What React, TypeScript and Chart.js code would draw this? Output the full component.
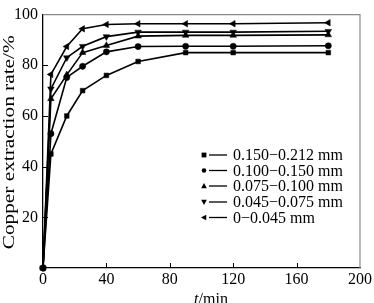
import React, { useEffect, useRef } from "react";
import { Chart, registerables } from "chart.js";

Chart.register(...registerables);

const times = [0, 5, 15, 25, 40, 60, 90, 120, 180];
const seriesLabels = [
  "0.150\u22120.212 mm",
  "0.100\u22120.150 mm",
  "0.075\u22120.100 mm",
  "0.045\u22120.075 mm",
  "0\u22120.045 mm",
];
const s1 = [0, 45, 60, 70, 76, 81.5, 85, 85, 85];
const s2 = [0, 53, 75.2, 79.6, 85.3, 87.4, 87.5, 87.5, 87.7];
const s3 = [0, 66.8, 76.2, 85, 87.8, 91.5, 91.8, 91.8, 92];
const s4 = [0, 70.7, 83, 87.5, 91.3, 93.1, 93.1, 93.1, 93.4];
const s5 = [0, 76.4, 87.4, 94.4, 96.1, 96.4, 96.4, 96.4, 96.8];
const seriesValues = [s1, s2, s3, s4, s5];
const yTicks = [0, 20, 40, 60, 80, 100];
const xTicks = [0, 40, 80, 120, 160, 200];

const FONT = "'Liberation Serif', 'Times New Roman', serif";
const styles: { ps: string; rot: number; r: number }[] = [
  { ps: "rect", rot: 0, r: 3.3 },
  { ps: "circle", rot: 0, r: 3.1 },
  { ps: "triangle", rot: 0, r: 3.8 },
  { ps: "triangle", rot: 180, r: 3.8 },
  { ps: "triangle", rot: 270, r: 3.8 },
];

function drawMarker(ctx: CanvasRenderingContext2D, kind: number, x: number, y: number, r: number) {
  ctx.save();
  ctx.translate(x, y);
  ctx.fillStyle = "#000";
  ctx.beginPath();
  if (kind === 0) {
    ctx.rect(-r, -r, 2 * r, 2 * r);
  } else if (kind === 1) {
    ctx.arc(0, 0, r, 0, Math.PI * 2);
  } else {
    const rot = kind === 2 ? 0 : kind === 3 ? Math.PI : -Math.PI / 2;
    ctx.rotate(rot);
    ctx.moveTo(0, -r * 1.1);
    ctx.lineTo(r, r * 0.8);
    ctx.lineTo(-r, r * 0.8);
    ctx.closePath();
  }
  ctx.fill();
  ctx.restore();
}

const decorPlugin = {
  id: "decor",
  beforeDatasetsDraw(chart: any) {
    const { ctx, chartArea: a } = chart;
    ctx.save();
    ctx.strokeStyle = "#8a8a8a";
    ctx.lineWidth = 1.2;
    ctx.beginPath();
    ctx.moveTo(a.left, a.top);
    ctx.lineTo(a.right, a.top);
    ctx.lineTo(a.right, a.bottom);
    ctx.stroke();
    ctx.strokeStyle = "#000";
    ctx.lineWidth = 1;
    const ys = chart.scales.y;
    const xs = chart.scales.x;
    yTicks.slice(1, -1).forEach((v) => {
      const py = Math.round(ys.getPixelForValue(v)) + 0.5;
      ctx.beginPath();
      ctx.moveTo(a.left, py);
      ctx.lineTo(a.left + 5, py);
      ctx.stroke();
    });
    xTicks.slice(1, -1).forEach((v) => {
      const px = Math.round(xs.getPixelForValue(v)) + 0.5;
      ctx.beginPath();
      ctx.moveTo(px, a.bottom);
      ctx.lineTo(px, a.bottom - 5);
      ctx.stroke();
    });
    ctx.restore();
  },
  afterDraw(chart: any) {
    const { ctx, chartArea: a } = chart;
    ctx.save();
    ctx.fillStyle = "#000";
    ctx.save();
    ctx.translate(10, (a.top + a.bottom) / 2 + 1);
    ctx.rotate(-Math.PI / 2);
    ctx.scale(1.33, 1);
    ctx.font = `16px ${FONT}`;
    ctx.textAlign = "center";
    ctx.textBaseline = "middle";
    ctx.fillText("Copper extraction rate/%", 0, 0);
    ctx.restore();
    ctx.font = `italic 16px ${FONT}`;
    const wt = ctx.measureText("t").width;
    ctx.font = `16px ${FONT}`;
    const wr = ctx.measureText("/min").width;
    const cx = 211;
    const x0 = cx - (wt + wr) / 2;
    ctx.textAlign = "left";
    ctx.textBaseline = "alphabetic";
    ctx.font = `italic 16px ${FONT}`;
    ctx.fillText("t", x0, 304);
    ctx.font = `16px ${FONT}`;
    ctx.fillText("/min", x0 + wt, 304);
    const rows = [155, 170.5, 186, 202, 217.5];
    ctx.font = `16px ${FONT}`;
    ctx.textBaseline = "middle";
    seriesLabels.forEach((lab, i) => {
      const y = rows[i];
      drawMarker(ctx, i, 204, y, i === 1 ? 2.3 : i === 0 ? 2.4 : 2.8);
      ctx.strokeStyle = "#000";
      ctx.lineWidth = 1.3;
      ctx.beginPath();
      ctx.moveTo(209, y);
      ctx.lineTo(227, y);
      ctx.stroke();
      ctx.fillText(lab, 233, y + 1);
    });
    ctx.restore();
  },
};

export default function App() {
  const ref = useRef<HTMLCanvasElement>(null);
  useEffect(() => {
    document.body.style.margin = "0";
    const canvas = ref.current!;
    const chart = new Chart(canvas, {
      type: "line",
      data: {
        datasets: seriesValues.map((vals, i) => ({
          label: seriesLabels[i],
          data: times.map((t, j) => ({ x: t, y: vals[j] })),
          borderColor: "#000",
          backgroundColor: "#000",
          borderWidth: 1.6,
          pointStyle: styles[i].ps as any,
          rotation: styles[i].rot,
          pointRadius: styles[i].r,
          pointBorderWidth: 0.5,
          tension: 0,
          clip: false as any,
        })),
      },
      options: {
        responsive: false,
        animation: false,
        devicePixelRatio: 1,
        layout: { padding: { top: 4, right: 10, left: 0, bottom: 0 } },
        plugins: { legend: { display: false }, tooltip: { enabled: false } },
        scales: {
          x: {
            type: "linear",
            min: 0,
            max: 200,
            afterFit: (s: any) => {
              s.height = 35;
            },
            afterBuildTicks: (s: any) => {
              s.ticks = xTicks.map((v) => ({ value: v }));
            },
            ticks: {
              color: "#000",
              font: { family: FONT, size: 16 },
              padding: 2,
              maxRotation: 0,
            },
            grid: { display: true, drawOnChartArea: false, drawTicks: false },
            border: { display: true, color: "#000", width: 1.3 },
          },
          y: {
            min: 0,
            max: 100,
            afterFit: (s: any) => {
              s.width = 43;
            },
            afterBuildTicks: (s: any) => {
              s.ticks = yTicks.map((v) => ({ value: v }));
            },
            ticks: {
              color: "#000",
              font: { family: FONT, size: 16 },
              padding: 5,
              callback: (v: any) => (v === 0 ? "" : String(v)),
            },
            grid: { display: true, drawOnChartArea: false, drawTicks: false },
            border: { display: true, color: "#000", width: 1.3 },
          },
        },
      },
      plugins: [decorPlugin],
    });
    return () => chart.destroy();
  }, []);
  return <canvas ref={ref} width={374} height={303} style={{ display: "block" }} />;
}
